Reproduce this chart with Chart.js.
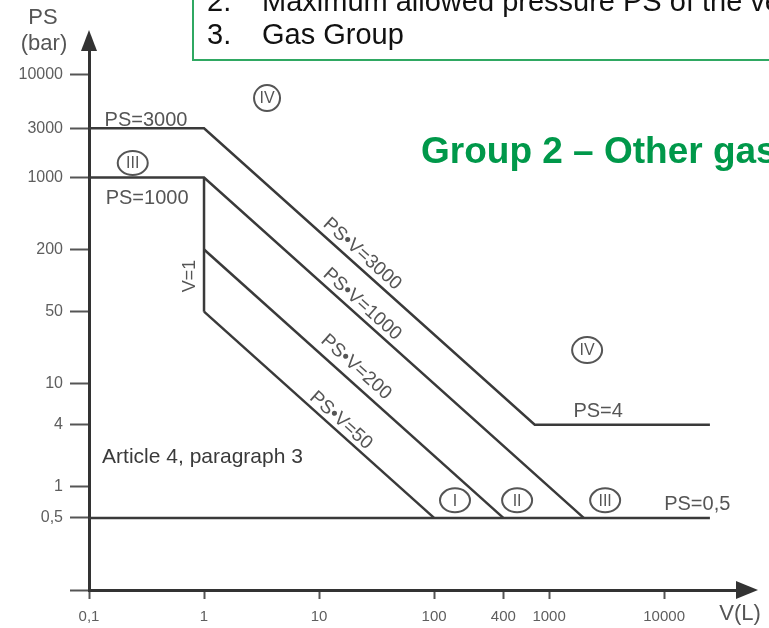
<!DOCTYPE html>
<html>
<head>
<meta charset="utf-8">
<script src="https://cdn.jsdelivr.net/npm/chart.js@4.4.0/dist/chart.umd.min.js"></script>
<style>
html,body{margin:0;padding:0;background:#fff;}
#wrap{width:769px;height:628px;position:relative;overflow:hidden;}
</style>
</head>
<body>
<div id="wrap"><canvas id="c"></canvas></div>
<script>
// ---- data ----
const xTickValues = [0.1, 1, 10, 100, 400, 1000, 10000];
const xTickLabels = ['0,1', '1', '10', '100', '400', '1000', '10000'];
const yTickValues = [0.1, 0.5, 1, 4, 10, 50, 200, 1000, 3000, 10000];
const yTickLabels = ['', '0,5', '1', '4', '10', '50', '200', '1000', '3000', '10000'];

// boundary lines (V in litres, PS in bar)
const volPS3000 = [0.1, 1, 750, 25000];
const psPS3000  = [3000, 3000, 4, 4];
const volPS1000 = [0.1, 1, 2000];
const psPS1000  = [1000, 1000, 0.5];
const volV1     = [1, 1];
const psV1      = [1000, 50];
const volPV200  = [1, 400];
const psPV200   = [200, 0.5];
const volPV50   = [1, 100];
const psPV50    = [50, 0.5];
const volPS05   = [0.1, 25000];
const psPS05    = [0.5, 0.5];

// text annotations in data coordinates
const labelTexts = ['PS=3000', 'PS=1000', 'V=1', 'PS\u2022V=3000', 'PS\u2022V=1000', 'PS\u2022V=200', 'PS\u2022V=50', 'PS=4', 'PS=0,5', 'Article 4, paragraph 3'];
const labelVol   = [0.313, 0.32, 0.755, 23.7, 23.7, 21, 15.5, 2670, 19400, 0.13];
const labelPS    = [3600, 630, 111, 181, 59, 14.5, 4.4, 5.4, 0.68, 1.94];
const labelKind  = ['h', 'h', 'v', 'd', 'd', 'd', 'd', 'h', 'h', 'left'];

const categoryTexts = ['III', 'IV', 'IV', 'I', 'II', 'III'];
const categoryVol   = [0.24, 3.53, 2140, 152, 527, 3070];
const categoryPS    = [1380, 5890, 21.2, 0.74, 0.74, 0.74];

// ---- chart ----
const LINE = '#3a3a3a';
const TXT = '#555';
const FONT = '"Liberation Sans", Arial, sans-serif';
function pts(vs, ps){ return vs.map((v,i)=>({x:v, y:ps[i]})); }
function ds(vs, ps){
  return {data: pts(vs, ps), showLine:true, borderColor:LINE, borderWidth:2.5, pointRadius:0, fill:false, tension:0, clip:false};
}

const decor = {
  id:'decor',
  afterDatasetsDraw(chart){
    const {ctx, chartArea:a} = chart;
    const xs = chart.scales.x, ys = chart.scales.y;
    const X = v=>xs.getPixelForValue(v), Y = v=>ys.getPixelForValue(v);
    const ang = Math.atan2(Y(1) - Y(1000), X(1000) - X(1));
    ctx.save();
    ctx.fillStyle = TXT;
    ctx.textBaseline = 'middle';
    labelTexts.forEach((t,i)=>{
      const px = X(labelVol[i]), py = Y(labelPS[i]);
      ctx.save();
      ctx.translate(px, py);
      ctx.font = '20px ' + FONT;
      ctx.textAlign = 'center';
      if (labelKind[i] === 'v') { ctx.rotate(-Math.PI/2); ctx.font = '18px ' + FONT; }
      else if (labelKind[i] === 'd') { ctx.rotate(ang); ctx.font = '19px ' + FONT; }
      else if (labelKind[i] === 'left') { ctx.textAlign = 'left'; ctx.font = '21px ' + FONT; ctx.fillStyle = '#3a3a3a'; }
      ctx.fillText(t, 0, 0);
      ctx.restore();
    });
    categoryTexts.forEach((t,i)=>{
      const px = X(categoryVol[i]), py = Y(categoryPS[i]);
      ctx.save();
      ctx.strokeStyle = TXT; ctx.lineWidth = 2;
      ctx.beginPath();
      const rx = (t === 'IV' && i === 1) ? 13 : 15, ry = t === 'IV' ? 13 : 12;
      ctx.ellipse(px, py, rx, ry, 0, 0, Math.PI*2);
      ctx.stroke();
      ctx.font = '16px ' + FONT;
      ctx.textAlign = 'center';
      ctx.fillText(t, px, py + 1);
      ctx.restore();
    });
    // arrow heads
    ctx.fillStyle = '#333';
    ctx.beginPath();
    ctx.moveTo(a.left, a.top - 18); ctx.lineTo(a.left - 8, a.top + 3); ctx.lineTo(a.left + 8, a.top + 3); ctx.closePath(); ctx.fill();
    ctx.beginPath();
    ctx.moveTo(a.right + 21, a.bottom); ctx.lineTo(a.right - 1, a.bottom - 9); ctx.lineTo(a.right - 1, a.bottom + 9); ctx.closePath(); ctx.fill();
    // axis titles
    ctx.fillStyle = TXT;
    ctx.textAlign = 'center';
    ctx.font = '22px ' + FONT;
    ctx.fillText('PS', a.left - 46, 18);
    ctx.fillText('(bar)', a.left - 45, 44);
    ctx.fillText('V(L)', 740, 614);
    // header box
    ctx.strokeStyle = '#2fa862'; ctx.lineWidth = 2;
    ctx.strokeRect(193, -20, 700, 80);
    ctx.fillStyle = '#111';
    ctx.textAlign = 'left'; ctx.textBaseline = 'alphabetic';
    ctx.font = '29px ' + FONT;
    ctx.fillText('2.', 207, 11);
    ctx.fillText('Maximum allowed pressure PS of the vessel', 262, 11);
    ctx.fillText('3.', 207, 44);
    ctx.fillText('Gas Group', 262, 44);
    // title
    ctx.fillStyle = '#00984a';
    ctx.font = 'bold 37px ' + FONT;
    ctx.fillText('Group 2 \u2013 Other gases', 421, 163);
    ctx.restore();
  }
};

new Chart(document.getElementById('c'), {
  type:'scatter',
  data:{ datasets:[
    ds(volPS3000, psPS3000), ds(volPS1000, psPS1000), ds(volV1, psV1),
    ds(volPV200, psPV200), ds(volPV50, psPV50), ds(volPS05, psPS05)
  ]},
  options:{
    responsive:true, maintainAspectRatio:false, animation:false,
    layout:{ padding:{ top:48, right:32, left:0, bottom:0 } },
    plugins:{ legend:{display:false}, tooltip:{enabled:false} },
    scales:{
      x:{
        type:'logarithmic', min:0.1, max:43000,
        afterBuildTicks(s){ s.ticks = xTickValues.map(v=>({value:v})); },
        afterFit(s){ s.height = 38; },
        ticks:{ autoSkip:false, maxRotation:0, padding:9, color:'#5e5e5e', font:{family:FONT, size:15},
          callback:(v,i)=>xTickLabels[i] },
        grid:{ display:true, drawOnChartArea:false, drawTicks:true, tickLength:9, tickColor:'#555', tickWidth:2 },
        border:{ display:true, color:'#333', width:3 }
      },
      y:{
        type:'logarithmic', min:0.1, max:18000,
        afterBuildTicks(s){ s.ticks = yTickValues.map(v=>({value:v})); },
        afterFit(s){ s.width = 89; },
        ticks:{ autoSkip:false, padding:7, color:'#5e5e5e', font:{family:FONT, size:16},
          callback:(v,i)=>yTickLabels[i] },
        grid:{ display:true, drawOnChartArea:false, drawTicks:true, tickLength:19, tickColor:'#555', tickWidth:2 },
        border:{ display:true, color:'#333', width:3 }
      }
    }
  },
  plugins:[decor]
});
</script>
</body>
</html>
